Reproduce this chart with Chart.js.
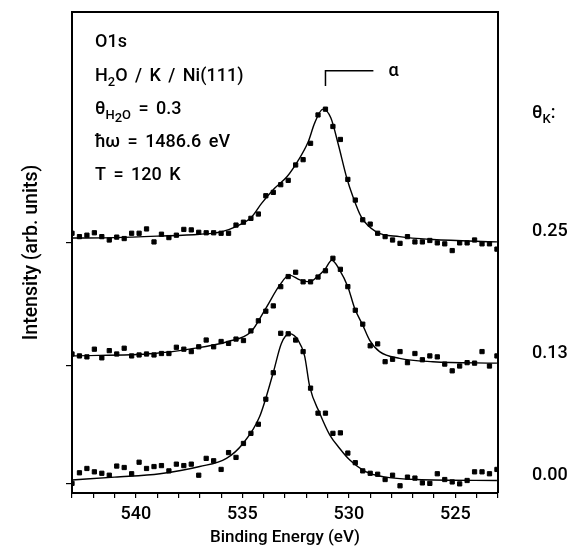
<!DOCTYPE html>
<html>
<head>
<meta charset="utf-8">
<script src="https://cdn.jsdelivr.net/npm/chart.js@4/dist/chart.umd.min.js"></script>
<style>
  html, body { margin: 0; padding: 0; background: #fff; }
  .wrap { width: 571px; height: 550px; position: relative; }
</style>
</head>
<body>
<div class="wrap"><canvas id="chart"></canvas></div>
<script>
// binding energy grid of the measured points (eV)
const energy = [
  543.00, 542.65, 542.30, 541.95, 541.60, 541.25, 540.90, 540.55, 540.20, 539.85,
  539.50, 539.15, 538.80, 538.45, 538.10, 537.75, 537.40, 537.05, 536.70, 536.35,
  536.00, 535.65, 535.30, 534.95, 534.60, 534.25, 533.90, 533.55, 533.20, 532.85,
  532.50, 532.15, 531.80, 531.45, 531.10, 530.75, 530.40, 530.05, 529.70, 529.35,
  529.00, 528.65, 528.30, 527.95, 527.60, 527.25, 526.90, 526.55, 526.20, 525.85,
  525.50, 525.15, 524.80, 524.45, 524.10, 523.75, 523.40, 523.05
]

// measured intensities (arb. units, spectra already offset)
const points025 = [
  54.0, 53.3, 53.6, 54.1, 53.3, 52.6, 53.2, 52.9, 54.0, 54.0,
  54.9, 52.2, 53.8, 53.1, 53.6, 54.8, 54.7, 54.2, 54.1, 54.1,
  54.0, 54.0, 55.7, 56.3, 57.1, 58.0, 61.8, 62.5, 64.1, 65.0,
  68.2, 69.3, 72.7, 78.6, 79.8, 76.2, 73.5, 65.2, 60.9, 56.8,
  55.9, 54.0, 53.3, 52.6, 51.9, 53.3, 52.2, 52.2, 52.5, 52.0,
  51.8, 50.4, 52.0, 52.0, 52.6, 51.8, 51.8, 50.7
]
const points013 = [
  28.9, 28.5, 28.3, 29.9, 28.1, 29.6, 28.9, 30.1, 28.5, 28.7,
  28.9, 28.7, 29.0, 29.0, 30.3, 29.9, 29.4, 30.4, 31.8, 30.4,
  31.5, 31.1, 32.0, 31.7, 33.7, 35.8, 37.8, 38.9, 42.9, 45.0,
  45.9, 43.9, 43.9, 44.9, 46.2, 48.8, 46.5, 42.9, 38.0, 35.1,
  30.6, 31.0, 27.3, 27.8, 29.4, 27.1, 29.0, 27.7, 28.5, 28.3,
  26.8, 25.4, 26.4, 27.1, 27.0, 29.4, 26.4, 28.5
]
const points000 = [
  2.0, 4.2, 5.1, 4.4, 4.1, 3.7, 5.6, 5.3, 4.0, 6.4,
  5.1, 5.5, 5.7, 4.6, 6.0, 5.7, 6.0, 3.7, 7.2, 6.7,
  4.9, 8.4, 7.4, 10.3, 12.4, 14.3, 19.5, 25.0, 33.2, 33.1,
  31.8, 29.4, 21.8, 16.6, 16.6, 12.4, 12.5, 8.3, 6.3, 4.6,
  4.1, 3.9, 2.8, 3.7, 1.5, 3.3, 3.1, 2.1, 2.0, 4.0,
  2.8, 2.3, 1.9, 2.6, 4.4, 4.4, 4.0, 4.9
]

// fitted curves
const fitEnergy025 = [543.0, 541.0, 539.0, 537.0, 536.0, 535.3, 534.6, 534.1, 533.5, 532.9, 532.4, 531.92, 531.6, 531.22, 530.85, 530.5, 530.1, 529.81, 529.42, 528.72, 527.62, 526.06, 523.05]
const fit025 = [53.0, 53.1, 53.4, 53.8, 54.3, 55.4, 57.2, 60.2, 63.3, 65.8, 69.0, 72.9, 77.0, 79.8, 78.0, 72.5, 65.5, 61.6, 57.4, 54.3, 53.3, 52.7, 52.2]
const fitEnergy013 = [543.0, 539.15, 537.5, 535.67, 534.6, 533.9, 533.25, 532.8, 532.3, 531.84, 531.53, 531.14, 530.8, 530.44, 530.05, 529.73, 529.35, 529.03, 528.56, 527.62, 526.06, 523.05]
const fit013 = [28.5, 29.0, 29.9, 31.5, 33.5, 38.4, 43.2, 45.3, 44.3, 43.9, 44.8, 46.4, 48.4, 46.4, 42.9, 38.4, 34.9, 31.8, 29.4, 28.0, 27.3, 27.0]
const fitEnergy000 = [543.0, 541.0, 538.87, 537.0, 535.75, 534.97, 534.19, 533.56, 533.17, 532.78, 532.39, 532.08, 531.84, 531.37, 530.9, 530.44, 529.97, 529.19, 528.4, 526.84, 523.05]
const fit000 = [2.7, 3.3, 4.0, 5.5, 7.2, 10.3, 15.9, 24.9, 31.1, 33.1, 31.8, 28.5, 22.1, 16.6, 12.1, 9.3, 6.9, 4.4, 3.4, 2.8, 2.6]

// K coverages and the level of their labels / axis ticks
const coverages = ['0.25', '0.13', '0.00']
const coverageLevels = [54.3, 28.9, 3.7]
const baselineTicks = [52.0, 26.4, 1.9]
const alphaEnergy = 531.1
const alphaEnd = 528.85
const alphaLevels = [84.6, 87.8]

const FONT = 'Roboto, "Open Sans", sans-serif'
const W = 500

function xy(xs, ys) {
  return xs.map((x, i) => ({ x: x, y: ys[i] }))
}

function pointSet(ys) {
  return {
    data: xy(energy, ys),
    showLine: false,
    pointStyle: 'rect',
    pointRadius: 3,
    pointBorderWidth: 1,
    pointBackgroundColor: '#000',
    pointBorderColor: '#000'
  }
}
function fitSet(xs, ys) {
  return {
    data: xy(xs, ys),
    showLine: true,
    borderColor: '#000',
    borderWidth: 1.4,
    pointRadius: 0,
    cubicInterpolationMode: 'monotone'
  }
}

// draws text pieces with subscripts, returns end x
function richText(ctx, parts, x, y, size) {
  parts.forEach(p => {
    const lvl = p.sub || 0
    const s = lvl ? size * 0.72 : size
    ctx.font = `${W} ${s}px ${FONT}`
    ctx.fillText(p.t, x, y + lvl * 5)
    x += ctx.measureText(p.t).width
  })
  return x
}

const annotations = {
  id: 'annotations',
  afterDraw(chart) {
    const ctx = chart.ctx
    const xs = chart.scales.x
    const ys = chart.scales.y
    const area = chart.chartArea
    ctx.save()
    ctx.strokeStyle = '#000'
    ctx.fillStyle = '#000'

    // top and right frame
    ctx.lineWidth = 2
    ctx.beginPath()
    ctx.moveTo(area.left, area.top)
    ctx.lineTo(area.right, area.top)
    ctx.lineTo(area.right, area.bottom)
    ctx.stroke()

    // alpha bracket
    const ax = xs.getPixelForValue(alphaEnergy)
    const ax2 = xs.getPixelForValue(alphaEnd)
    const ay = ys.getPixelForValue(alphaLevels[1])
    ctx.lineWidth = 1.5
    ctx.beginPath()
    ctx.moveTo(ax, ys.getPixelForValue(alphaLevels[0]))
    ctx.lineTo(ax, ay)
    ctx.lineTo(ax2, ay)
    ctx.stroke()
    ctx.textBaseline = 'alphabetic'
    ctx.font = `${W} 18px ${FONT}`
    ctx.fillText('α', ax2 + 15, ay + 5.5)

    // sample description
    if ('wordSpacing' in ctx) ctx.wordSpacing = '3px'
    const tx = area.left + 23
    richText(ctx, [{ t: 'O1s' }], tx, area.top + 35, 18)
    richText(ctx, [{ t: 'H' }, { t: '2', sub: 1 }, { t: 'O / K / Ni(111)' }], tx, area.top + 68.5, 18)
    richText(ctx, [{ t: 'θ' }, { t: 'H', sub: 1 }, { t: '2', sub: 1.6 }, { t: 'O', sub: 1 }, { t: ' = 0.3' }], tx, area.top + 102, 18)
    richText(ctx, [{ t: 'ħω = 1486.6 eV' }], tx, area.top + 135, 18)
    richText(ctx, [{ t: 'T = 120 K' }], tx, area.top + 168, 18)

    // coverage labels on the right
    const lx = area.right + 34
    richText(ctx, [{ t: 'θ' }, { t: 'K', sub: 1 }, { t: ':' }], lx, area.top + 106, 18)
    ctx.font = `${W} 18px ${FONT}`
    ctx.textBaseline = 'middle'
    coverages.forEach((c, i) => {
      ctx.fillText(c, lx, ys.getPixelForValue(coverageLevels[i]))
    })
    ctx.restore()
  }
}

new Chart(document.getElementById('chart'), {
  type: 'scatter',
  data: {
    datasets: [
      pointSet(points025), fitSet(fitEnergy025, fit025),
      pointSet(points013), fitSet(fitEnergy013, fit013),
      pointSet(points000), fitSet(fitEnergy000, fit000)
    ]
  },
  options: {
    responsive: true,
    maintainAspectRatio: false,
    animation: false,
    layout: { padding: { left: 0, top: 12, right: 73, bottom: 0 } },
    plugins: { legend: { display: false }, tooltip: { enabled: false } },
    scales: {
      x: {
        type: 'linear',
        reverse: true,
        min: 523,
        max: 543,
        afterFit: s => { s.height = 57 },
        border: { display: true, color: '#000', width: 2 },
        grid: { drawOnChartArea: false, drawTicks: true, tickLength: 5, color: '#000', lineWidth: 1.2 },
        ticks: {
          stepSize: 1,
          autoSkip: false,
          maxRotation: 0,
          padding: 6,
          color: '#000',
          font: { family: FONT, size: 18, weight: W },
          callback: v => (v % 5 === 0 ? String(v) : '')
        },
        title: {
          display: true,
          text: 'Binding Energy (eV)',
          color: '#000',
          font: { family: FONT, size: 17, weight: W },
          padding: { top: 0, bottom: 2 }
        }
      },
      y: {
        type: 'linear',
        min: 0,
        max: 100,
        afterFit: s => { s.width = 72 },
        afterBuildTicks: s => { s.ticks = baselineTicks.map(v => ({ value: v })) },
        border: { display: true, color: '#000', width: 2 },
        grid: { drawOnChartArea: false, drawTicks: true, tickLength: 6, color: '#000', lineWidth: 1.2 },
        ticks: { display: false },
        title: {
          display: true,
          text: 'Intensity (arb. units)',
          color: '#000',
          font: { family: FONT, size: 19.5, weight: W },
          padding: { top: 20, bottom: 0 }
        }
      }
    }
  },
  plugins: [annotations]
})
</script>
</body>
</html>
